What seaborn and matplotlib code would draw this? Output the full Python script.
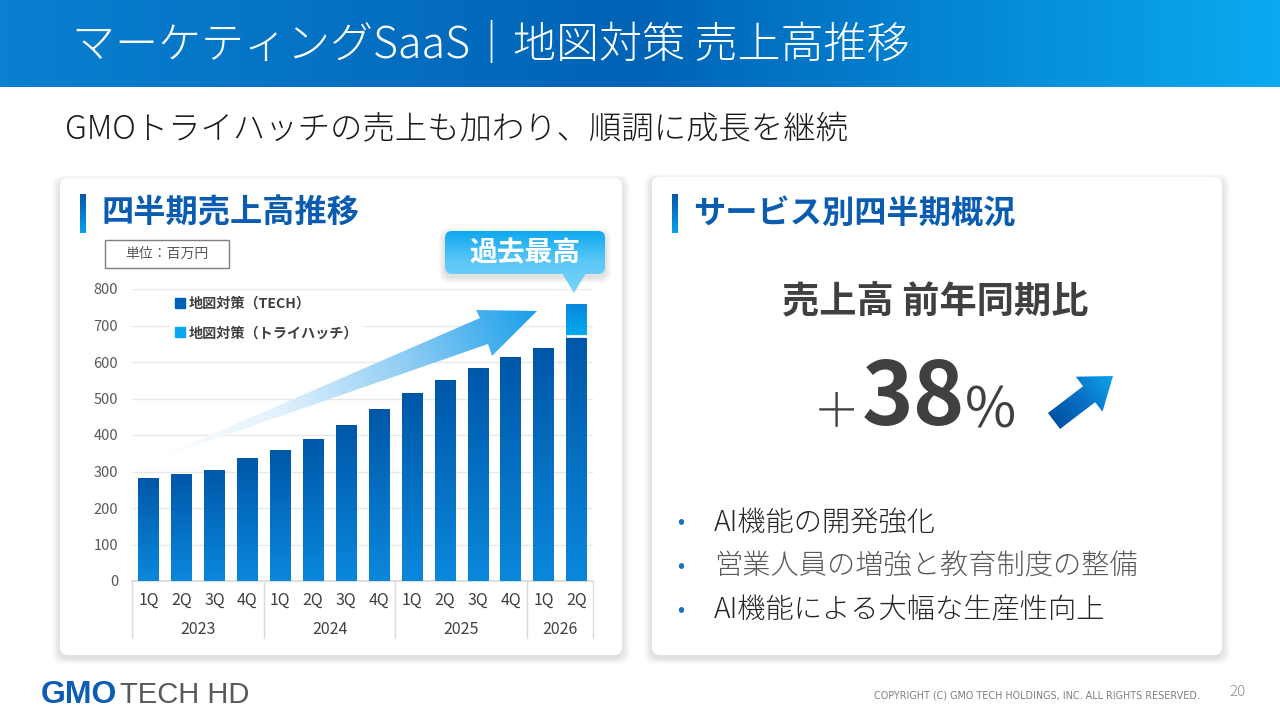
import numpy as np
import pandas as pd
import matplotlib
matplotlib.use("Agg")
import matplotlib.pyplot as plt
import seaborn as sns
import matplotlib.transforms as mtransforms
from matplotlib.patches import FancyBboxPatch, Rectangle, Polygon
from matplotlib.colors import LinearSegmentedColormap
from matplotlib.lines import Line2D

# ---------------- data ----------------
years = ["2023", "2024", "2025", "2026"]
quarters_per_year = [4, 4, 4, 2]
quarters = ["1Q", "2Q", "3Q", "4Q", "1Q", "2Q", "3Q", "4Q",
            "1Q", "2Q", "3Q", "4Q", "1Q", "2Q"]
tech_sales = [283, 294, 305, 337, 359, 390, 427, 471, 516, 551, 584, 613, 639, 670]
trihatch_sales = [0, 0, 0, 0, 0, 0, 0, 0, 0, 0, 0, 0, 0, 90]
series_names = ["地図対策（TECH）", "地図対策（トライハッチ）"]
y_ticks = [0, 100, 200, 300, 400, 500, 600, 700, 800]

title_text = "マーケティングSaaS｜地図対策 売上高推移"
subtitle_text = "GMOトライハッチの売上も加わり、順調に成長を継続"
left_header = "四半期売上高推移"
right_header = "サービス別四半期概況"
unit_text = "単位：百万円"
callout_text = "過去最高"
kpi_label = "売上高 前年同期比"
kpi_value = "38"
bullets = ["AI機能の開発強化", "営業人員の増強と教育制度の整備", "AI機能による大幅な生産性向上"]
copyright_text = "COPYRIGHT (C) GMO TECH HOLDINGS, INC. ALL RIGHTS RESERVED."
page_no = "20"

period_year = [y for y, n in zip(years, quarters_per_year) for _ in range(n)]
df = pd.DataFrame({
    "period": [f"{y} {q}" for y, q in zip(period_year, quarters)],
    "tech": tech_sales,
    "trihatch": trihatch_sales,
})
df["total"] = df["tech"] + df["trihatch"]
order = list(df["period"])

# ---------------- style ----------------
sns.set_theme(style="white")
JP = ["Noto Sans CJK JP", "DejaVu Sans"]
plt.rcParams["font.family"] = JP

W, H = 1280, 720
fig = plt.figure(figsize=(12.8, 7.2), dpi=100)
fig.patch.set_facecolor("white")

ax_bg = fig.add_axes([0, 0, 1, 1], zorder=0)
ax_bg.set_xlim(0, W); ax_bg.set_ylim(H, 0); ax_bg.axis("off")


def grad_img(ax, extent, colors, zorder, horizontal=False, clip=None, n=256):
    cmap = LinearSegmentedColormap.from_list("g", colors)
    arr = np.linspace(0, 1, n)
    arr = arr.reshape(1, -1) if horizontal else arr.reshape(-1, 1)
    im = ax.imshow(arr, cmap=cmap, extent=extent, aspect="auto", origin="upper",
                   zorder=zorder, interpolation="bicubic", vmin=0, vmax=1)
    if clip is not None:
        im.set_clip_path(clip)
    return im


# header band
grad_img(ax_bg, (0, W, 87, 0), ["#0a80d0", "#0063b6", "#0aaaf0"], 1, horizontal=True)
ax_bg.text(72, 45, title_text, color="white", fontsize=31, weight="light",
           va="center", ha="left", zorder=5)
ax_bg.text(65, 130, subtitle_text, color="#1a1a1a", fontsize=23.3, weight="light",
           va="center", ha="left", zorder=5)

# cards with soft shadow
for (cx, cy, cw, ch) in [(60, 178, 562, 477), (652, 177, 570, 478)]:
    for i in range(10, 0, -1):
        sh = FancyBboxPatch((cx - i * 0.8, cy - i * 0.6 + 3), cw + i * 1.6, ch + i * 1.2,
                            boxstyle="round,pad=0,rounding_size=10",
                            fc="black", ec="none", alpha=0.012, zorder=1)
        ax_bg.add_patch(sh)
    card = FancyBboxPatch((cx, cy), cw, ch, boxstyle="round,pad=0,rounding_size=8",
                          fc="white", ec="none", zorder=2)
    ax_bg.add_patch(card)

# section headers
for bx, tx, txt in [(80, 101, left_header), (672, 693, right_header)]:
    grad_img(ax_bg, (bx, bx + 6, 233, 194), ["#0055a8", "#0aa3ec"], 3)
    ax_bg.text(tx, 213, txt, color="#0a5cb0", fontsize=23.2, weight="bold",
               va="center", ha="left", zorder=5)

# unit box
ax_bg.add_patch(Rectangle((105, 240), 124, 28, fc="white", ec="#7f7f7f", lw=1, zorder=3))
ax_bg.text(167, 254, unit_text, color="#595959", fontsize=10, va="center", ha="center", zorder=5)

# ---------------- chart ----------------
ax = fig.add_axes([132 / W, (H - 581) / H, 461 / W, 292 / H], zorder=1)
ax.set_facecolor("none")

n0 = len(ax.patches)
sns.barplot(data=df, x="period", y="total", order=order, color="#0a9be6",
            width=0.62, errorbar=None, ax=ax)
total_patches = ax.patches[n0:]
n1 = len(ax.patches)
sns.barplot(data=df, x="period", y="tech", order=order, color="#0068bb",
            width=0.62, errorbar=None, ax=ax)
tech_patches = ax.patches[n1:]

for p, tri, tech in zip(total_patches, df["trihatch"], df["tech"]):
    p.set_facecolor("none"); p.set_edgecolor("none")
    if tri > 0:
        x0 = p.get_x(); w = p.get_width()
        grad_img(ax, (x0, x0 + w, tech, tech + tri), ["#0a86dc", "#00acf0"], 2, clip=p)

for p, tri in zip(tech_patches, df["trihatch"]):
    x0 = p.get_x(); w = p.get_width(); h = p.get_height()
    grad_img(ax, (x0, x0 + w, 0, h), ["#0057a8", "#0a88dc"], 3, clip=p)
    p.set_facecolor("none")
    p.set_zorder(4)
    if tri > 0:
        ax.plot([x0, x0 + w], [h, h], color="white", lw=2, zorder=5,
                solid_capstyle="butt")
    p.set_edgecolor("none")

ax.set_xlim(-0.5, len(order) - 0.5)
ax.set_ylim(0, 800)
ax.set_yticks(y_ticks)
ax.set_yticklabels([str(v) for v in y_ticks])
ax.set_xticks(range(len(order)))
ax.set_xticklabels(quarters)
ax.set_xlabel(""); ax.set_ylabel("")
ax.yaxis.grid(True, color="#e8e8e8", lw=1)
ax.set_axisbelow(True)
for s in ["left", "right", "top"]:
    ax.spines[s].set_visible(False)
ax.spines["bottom"].set_color("#d9d9d9")
ax.tick_params(axis="y", length=0, pad=10, labelsize=10.5, labelcolor="#595959")
ax.tick_params(axis="x", length=0, pad=8, labelsize=11.5, labelcolor="#404040")

# year grouping
blend = mtransforms.blended_transform_factory(ax.transData, ax_bg.transData)
bounds = np.concatenate([[0], np.cumsum(quarters_per_year)]) - 0.5
for b in bounds:
    ax.plot([b, b], [581, 638], color="#d9d9d9", lw=1, transform=blend, clip_on=False, zorder=1)
for y, c in zip(years, (bounds[:-1] + bounds[1:]) / 2):
    ax.text(c, 630, y, transform=blend, ha="center", va="center", fontsize=11.5, color="#404040")

# legend
handles = [Line2D([], [], marker="s", ls="", markersize=6.5, color="#0062b6"),
           Line2D([], [], marker="s", ls="", markersize=6.5, color="#0aa6ee")]
leg = ax.legend(handles, series_names, loc="upper left",
                bbox_to_anchor=(163 / W, 1 - 284 / H), bbox_transform=fig.transFigure,
                frameon=True, framealpha=1, facecolor="white", edgecolor="none",
                handlelength=0.6, handletextpad=0.3, labelspacing=1.1, borderpad=0.4,
                prop={"size": 10.2, "weight": "bold"})
for t in leg.get_texts():
    t.set_color("#404040")
leg.set_zorder(6)

# ---------------- overlay ----------------
ax_ov = fig.add_axes([0, 0, 1, 1], zorder=3)
ax_ov.set_facecolor("none")
ax_ov.set_xlim(0, W); ax_ov.set_ylim(H, 0); ax_ov.axis("off")

# big trend arrow
arrow_pts = [(146, 463), (480, 318), (476, 310), (537, 311), (492, 356), (488, 344)]
poly = Polygon(arrow_pts, closed=True, fc="none", ec="none")
ax_ov.add_patch(poly)
ex = (140, 545, 470, 302)
gx = np.linspace(ex[0], ex[1], 400)
gy = np.linspace(ex[3], ex[2], 170)
GX, GY = np.meshgrid(gx, gy)
tail = np.array([146, 463]); tip = np.array([537, 311])
d = tip - tail
t = ((GX - tail[0]) * d[0] + (GY - tail[1]) * d[1]) / (d @ d)
t = np.clip(t, 0, 1)
cm = LinearSegmentedColormap.from_list("a", ["#ffffff", "#e3f2fd", "#8fcdf4", "#1a9fea"])
im = ax_ov.imshow(cm(t), extent=ex, aspect="auto", origin="upper", zorder=2)
im.set_clip_path(poly)

# callout "過去最高"
for i in range(6, 0, -1):
    ax_ov.add_patch(FancyBboxPatch((445 - i, 231 - i + 3), 160 + 2 * i, 43 + 2 * i,
                                   boxstyle="round,pad=0,rounding_size=9",
                                   fc="black", ec="none", alpha=0.018, zorder=3))
box = FancyBboxPatch((445, 231), 160, 43, boxstyle="round,pad=0,rounding_size=7",
                     fc="none", ec="none", zorder=4)
tri = Polygon([(562, 273), (586, 273), (574, 293)], closed=True, fc="none", ec="none", zorder=4)
ax_ov.add_patch(box); ax_ov.add_patch(tri)
grad_img(ax_ov, (445, 605, 293, 231), ["#0ea8ef", "#5cc8f6", "#7ad4f8"], 4, clip=box)
grad_img(ax_ov, (445, 605, 293, 231), ["#0ea8ef", "#5cc8f6", "#7ad4f8"], 4, clip=tri)
ax_ov.text(525, 253, callout_text, color="white", fontsize=20, weight="bold",
           ha="center", va="center", zorder=6)

# right panel KPI
ax_ov.text(935, 303, kpi_label, color="#404040", fontsize=26.8, weight="bold",
           ha="center", va="center", zorder=6)
ax_ov.text(836, 413, "＋", color="#404040", fontsize=34, weight="light",
           ha="center", va="center", zorder=6)
ax_ov.text(913, 400, kpi_value, color="#404040", fontsize=63, weight="bold",
           ha="center", va="center", zorder=6)
ax_ov.text(990, 412, "%", color="#404040", fontsize=40, weight="normal",
           ha="center", va="center", zorder=6)

# small arrow icon
a_tail = np.array([1054.0, 421.0]); a_tip = np.array([1113.0, 376.0])
u = (a_tip - a_tail) / np.linalg.norm(a_tip - a_tail)
nrm = np.array([-u[1], u[0]])
L = np.linalg.norm(a_tip - a_tail)
neck = a_tail + u * (L - 30)
icon_pts = [a_tail + nrm * 10, neck + nrm * 10, neck + nrm * 22, a_tip,
            neck - nrm * 22, neck - nrm * 10, a_tail - nrm * 10]
icon = Polygon(icon_pts, closed=True, fc="none", ec="none")
ax_ov.add_patch(icon)
iex = (1035, 1120, 440, 370)
ix = np.linspace(iex[0], iex[1], 120); iy = np.linspace(iex[3], iex[2], 100)
IX, IY = np.meshgrid(ix, iy)
dd = a_tip - a_tail
tt = np.clip(((IX - a_tail[0]) * dd[0] + (IY - a_tail[1]) * dd[1]) / (dd @ dd), 0, 1)
icm = LinearSegmentedColormap.from_list("i", ["#0052a3", "#0a72c8", "#0aa4ec"])
iim = ax_ov.imshow(icm(tt), extent=iex, aspect="auto", origin="upper", zorder=5)
iim.set_clip_path(icon)

# bullets
bullet_colors = ["#262626", "#595959", "#262626"]
for i, (b, c) in enumerate(zip(bullets, bullet_colors)):
    yy = 522 + i * 44
    ax_ov.text(681, yy, "•", color="#1a6fc4", fontsize=15, ha="center", va="center", zorder=6)
    ax_ov.text(714, yy, b, color=c, fontsize=20.3, weight="light", ha="left", va="center", zorder=6)

# footer
ax_ov.text(41, 695, "GMO", color="#0a5cb4", fontsize=23, weight="bold",
           family=["Liberation Sans", "DejaVu Sans"], ha="left", va="center", zorder=6)
ax_ov.text(120, 695, "TECH HD", color="#595959", fontsize=21,
           family=["Liberation Sans Narrow", "Liberation Sans", "DejaVu Sans"],
           ha="left", va="center", zorder=6)
ax_ov.text(1200, 695, copyright_text, color="#7f7f7f", fontsize=6.9,
           family=["DejaVu Sans"], ha="right", va="center", zorder=6)
ax_ov.text(1238, 692, page_no, color="#8c8c8c", fontsize=11, weight="light",
           ha="center", va="center", zorder=6)

ax_ov.set_xlim(0, W); ax_ov.set_ylim(H, 0)
ax_bg.set_xlim(0, W); ax_bg.set_ylim(H, 0)
ax.set_xlim(-0.5, len(order) - 0.5); ax.set_ylim(0, 800)

fig.savefig("out.png", dpi=100)
